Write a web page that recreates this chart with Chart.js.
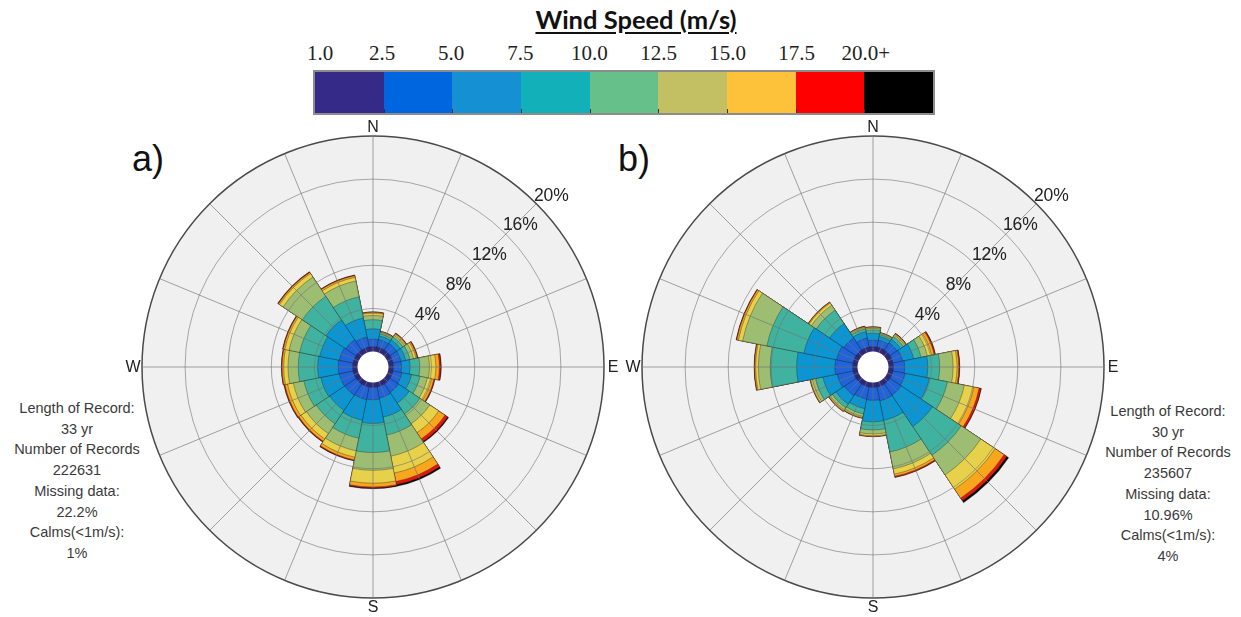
<!DOCTYPE html>
<html>
<head>
<meta charset="utf-8">
<script src="https://cdn.jsdelivr.net/npm/chart.js@4.4.1/dist/chart.umd.min.js"></script>
<style>
  body { margin: 0; background: #fff; width: 1241px; height: 617px; position: relative; overflow: hidden; }
  canvas { position: absolute; }
  .title { position: absolute; left: 436px; width: 400px; top: 4px; text-align: center;
    font: bold 25.5px Lato, "Open Sans", sans-serif; text-decoration: underline; text-underline-offset: 3px; color: #111; }
  .cbar { position: absolute; left: 313px; top: 70px; width: 618px; height: 41px; border: 2px solid #8c8c8c; display: flex; }
  .cbar div { flex: 1; position: relative; }
  .cbar div + div::before { content: ''; position: absolute; left: 0; bottom: 0; width: 1px; height: 4px; background: #333; }
  .clab { position: absolute; top: 41px; font: 21px "Liberation Serif", serif; color: #222; transform: translateX(-50%); }
  .panel { position: absolute; font: 36px "Liberation Sans", Arial, sans-serif; color: #111; }
  .info { position: absolute; width: 170px; text-align: center; font: 14.5px "Liberation Sans", Arial, sans-serif;
    line-height: 20.7px; color: #3a3a3a; }
</style>
</head>
<body>
<div class="title">Wind Speed (m/s)</div>
<div class="cbar" id="cbar"></div>
<div id="clabs"></div>
<div class="panel" style="left:132px;top:138px">a)</div>
<div class="panel" style="left:618px;top:138px">b)</div>
<div class="info" style="left:-8px;top:398px">Length of Record:<br>33 yr<br>Number of Records<br>222631<br>Missing data:<br>22.2%<br>Calms(&lt;1m/s):<br>1%</div>
<div class="info" style="left:1083px;top:401px">Length of Record:<br>30 yr<br>Number of Records<br>235607<br>Missing data:<br>10.96%<br>Calms(&lt;1m/s):<br>4%</div>
<canvas id="roseA" width="520" height="520" style="left:113px;top:107px"></canvas>
<canvas id="roseB" width="520" height="520" style="left:613px;top:107px"></canvas>
<script>
const directions = ['N', 'NNE', 'NE', 'ENE', 'E', 'ESE', 'SE', 'SSE', 'S', 'SSW', 'SW', 'WSW', 'W', 'WNW', 'NW', 'NNW']
const speedBins = ['1.0-2.5', '2.5-5.0', '5.0-7.5', '7.5-10.0', '10.0-12.5', '12.5-15.0', '15.0-17.5', '17.5-20.0', '20.0+']
const colorbarTicks = ['1.0', '2.5', '5.0', '7.5', '10.0', '12.5', '15.0', '17.5', '20.0+']
const colorbarColors = ['#352a87', '#0066e0', '#1490d3', '#12b0b9', '#65c08a', '#c3bf63', '#fec13a', '#fe0000', '#000000']
const roseColors = ['#2e2a82', '#2063db', '#0b95d3', '#3fb39f', '#9dbe72', '#e7d14a', '#f8a61c', '#e8140f', '#000000']
const radialTicks = [4, 8, 12, 16, 20]
const compass = ['N', 'E', 'S', 'W']

// cumulative frequency (%) at the top of each speed bin, one row per direction
const cumA = [
	[0.45, 1.15, 2.1, 2.95, 3.35, 3.55, 3.63, 3.67, 3.68],
	[0.45, 1.15, 1.5, 1.7, 1.82, 1.88, 1.92, 1.94, 1.95],
	[0.45, 1.2, 1.6, 1.9, 2.1, 2.22, 2.3, 2.34, 2.35],
	[0.45, 1.2, 1.65, 2.05, 2.4, 2.62, 2.74, 2.8, 2.82],
	[0.45, 1.2, 2.0, 2.9, 3.8, 4.4, 4.72, 4.86, 4.9],
	[0.45, 1.3, 2.2, 3.0, 3.7, 4.1, 4.32, 4.4, 4.42],
	[0.45, 1.4, 2.6, 3.8, 4.9, 5.9, 6.6, 6.9, 7.0],
	[0.45, 1.5, 3.3, 5.0, 7.0, 8.6, 9.4, 9.7, 9.85],
	[0.45, 1.6, 3.8, 6.5, 8.15, 9.35, 9.7, 9.8, 9.86],
	[0.45, 1.65, 3.6, 5.3, 6.5, 7.1, 7.35, 7.42, 7.45],
	[0.45, 1.7, 3.4, 4.9, 6.0, 6.6, 6.85, 6.92, 6.95],
	[0.45, 1.75, 3.5, 5.1, 6.1, 6.65, 6.9, 6.97, 7.0],
	[0.45, 1.8, 3.7, 5.5, 6.45, 6.85, 7.0, 7.05, 7.07],
	[0.45, 1.75, 3.6, 5.5, 6.5, 6.9, 7.05, 7.1, 7.12],
	[0.45, 1.6, 3.8, 6.45, 8.6, 9.0, 9.12, 9.17, 9.2],
	[0.45, 1.4, 3.2, 5.2, 6.7, 7.05, 7.2, 7.25, 7.27]
]
const cumB = [
	[0.45, 1.05, 1.7, 2.0, 2.15, 2.22, 2.27, 2.29, 2.3],
	[0.45, 1.1, 1.45, 1.62, 1.72, 1.77, 1.8, 1.81, 1.82],
	[0.45, 1.25, 1.65, 1.95, 2.12, 2.22, 2.28, 2.31, 2.32],
	[0.45, 1.35, 2.4, 3.1, 3.7, 4.1, 4.35, 4.45, 4.48],
	[0.45, 1.5, 3.65, 4.75, 6.0, 6.36, 6.52, 6.6, 6.62],
	[0.45, 1.6, 3.9, 5.6, 7.2, 8.1, 8.6, 8.78, 8.82],
	[0.45, 1.7, 5.2, 8.4, 10.6, 12.2, 13.2, 13.5, 13.7],
	[0.45, 1.75, 3.6, 6.6, 8.2, 8.7, 8.9, 9.0, 9.02],
	[0.45, 1.65, 3.65, 4.4, 4.78, 4.94, 5.0, 5.02, 5.03],
	[0.45, 1.6, 2.5, 3.0, 3.25, 3.35, 3.4, 3.42, 3.43],
	[0.45, 1.75, 2.7, 3.1, 3.35, 3.45, 3.5, 3.52, 3.53],
	[0.45, 1.95, 3.3, 4.0, 4.3, 4.45, 4.5, 4.52, 4.53],
	[0.45, 2.1, 5.65, 8.1, 9.2, 9.45, 9.55, 9.58, 9.6],
	[0.45, 2.0, 5.1, 8.6, 10.9, 11.3, 11.45, 11.5, 11.52],
	[0.45, 1.8, 3.4, 4.9, 5.45, 5.7, 5.78, 5.8, 5.82],
	[0.45, 1.3, 1.9, 2.15, 2.28, 2.35, 2.4, 2.42, 2.43]
]

const R_MIN = -1.44 // leaves room for the calm hole in the middle
const R_MAX = 20

// colour bar
const cbar = document.getElementById('cbar')
colorbarColors.forEach((c) => {
	const cell = document.createElement('div')
	cell.style.background = c
	cbar.appendChild(cell)
})
const clabs = document.getElementById('clabs')
colorbarTicks.forEach((t, i) => {
	const lab = document.createElement('div')
	lab.className = 'clab'
	lab.textContent = t
	lab.style.left = (i == 0 ? 320 : 313 + i * 69.1) + 'px'
	clabs.appendChild(lab)
})

const roseDecor = {
	id: 'roseDecor',
	afterDraw(chart) {
		const s = chart.scales.g
		const ctx = chart.ctx
		const xc = s.xCenter, yc = s.yCenter
		ctx.save()
		ctx.fillStyle = '#fff'
		ctx.beginPath()
		ctx.arc(xc, yc, s.getDistanceFromCenterForValue(0), 0, 2 * Math.PI)
		ctx.fill()
		ctx.fillStyle = '#222'
		ctx.textAlign = 'center'
		ctx.textBaseline = 'middle'
		ctx.font = '17.5px "Liberation Sans", Arial, sans-serif'
		const la = 46 * Math.PI / 180
		radialTicks.forEach((v) => {
			const d = s.getDistanceFromCenterForValue(v) + 17
			ctx.fillText(v + '%', xc + d * Math.sin(la), yc - d * Math.cos(la) + 1)
		})
		ctx.font = '16px "Liberation Sans", Arial, sans-serif'
		compass.forEach((c, i) => {
			const a = i * Math.PI / 2
			const d = s.drawingArea + 9
			ctx.fillText(c, xc + d * Math.sin(a), yc - d * Math.cos(a) + 1)
		})
		ctx.restore()
	}
}

drawRose = (id, cum) => {
	const data = {
		labels: directions,
		datasets: []
	}
	speedBins.forEach((b, k) => {
		data.datasets.push({
			label: b,
			rAxisID: 'r',
			data: cum.map((row) => row[k]),
			backgroundColor: roseColors[k],
			borderColor: 'rgba(40,40,40,0.55)',
			borderWidth: 0.7
		})
	})
	const config = {
		type: 'polarArea',
		data: data,
		options: {
			responsive: false,
			animation: false,
			events: [],
			layout: { padding: 29 },
			plugins: {
				legend: { display: false },
				tooltip: { enabled: false }
			},
			scales: {
				r: {
					min: R_MIN, max: R_MAX,
					startAngle: -11.25,
					backgroundColor: '#f0f0f0',
					grid: { display: false, circular: true },
					angleLines: { display: false },
					ticks: { display: false },
					pointLabels: { display: false }
				},
				g: {
					type: 'radialLinear', axis: 'r',
					min: R_MIN, max: R_MAX,
					startAngle: 45,
					grid: {
						circular: true, z: 1,
						color: (c) => c.tick && c.tick.value == 20 ? '#4a4a4a' : 'rgba(115,115,115,0.6)',
						lineWidth: (c) => c.tick && c.tick.value == 20 ? 1.5 : 1
					},
					angleLines: { display: true, color: 'rgba(115,115,115,0.65)', lineWidth: 1 },
					ticks: { display: false },
					pointLabels: { display: false },
					afterBuildTicks: (scale) => {
						scale.ticks = radialTicks.map((v) => ({ value: v }))
					}
				}
			}
		},
		plugins: [roseDecor]
	}
	const ctx = document.getElementById(id).getContext('2d')
	new Chart(ctx, config)
}

drawRose('roseA', cumA)
drawRose('roseB', cumB)
</script>
</body>
</html>
